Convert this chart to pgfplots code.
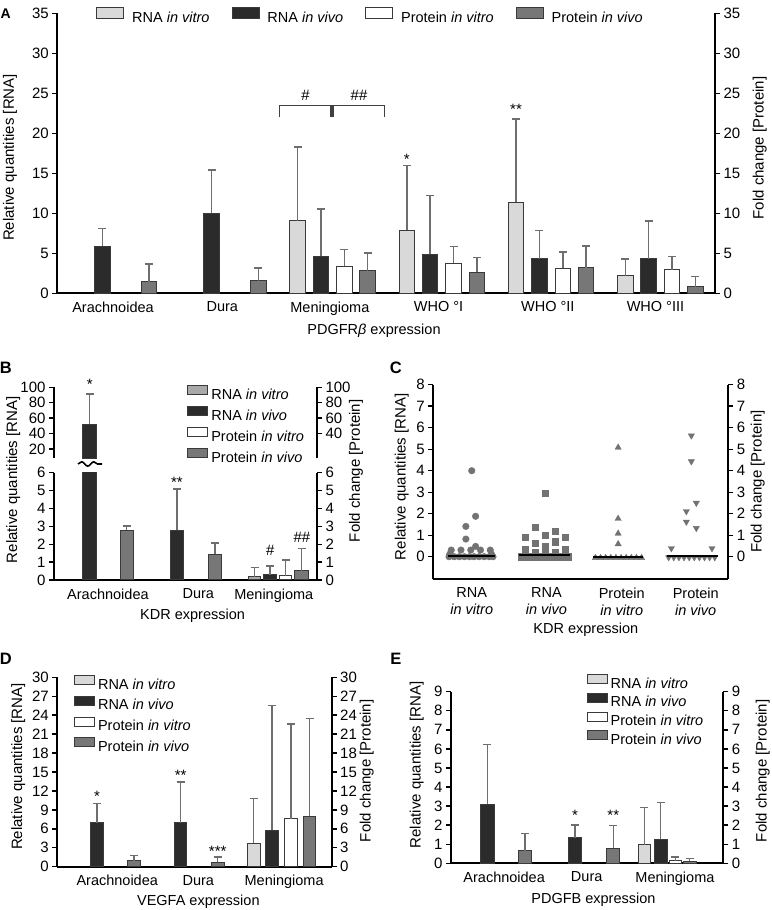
\documentclass[border=0pt]{standalone}
\usepackage{fontspec}
\setmainfont{Liberation Sans}
\usepackage{pgfplots}
\pgfplotsset{compat=1.18}
\usetikzlibrary{decorations.pathmorphing}

\definecolor{rvitro}{HTML}{D9D9D9}
\definecolor{rvitroB}{HTML}{A9A9A9}
\definecolor{rvivo}{HTML}{2B2B2B}
\definecolor{pvivo}{HTML}{777777}
\definecolor{edge}{HTML}{3A3A3A}
\definecolor{errc}{HTML}{6E6E6E}
\definecolor{dotc}{HTML}{727272}

\newcommand\fs{\fontsize{14.5}{16.7}\selectfont}
\newcommand\fsy{\fontsize{15}{18}\selectfont}

\pgfplotsset{
  base/.style={
    scale only axis, anchor=south west,
    axis line style={line width=1.8pt, -},
    tick style={black, line width=1.4pt},
    tick align=outside,
    major tick length=5pt,
    xtick style={draw=none},
    yticklabel style={font=\fsy},
    xticklabel style={font=\fs},
    /pgf/number format/assume math mode=true,
    label style={font=\fs},
    ylabel style={font=\fsy},
    clip mode=individual,
  },
  bars/.style={ybar, bar width=#1, bar shift=0pt, draw=edge, line width=1pt,
    /pgfplots/error bars/y dir=plus,
    /pgfplots/error bars/y explicit,
    /pgfplots/error bars/error bar style={errc, line width=1.5pt},
    /pgfplots/error bars/error mark options={errc, rotate=90, mark size=4pt, line width=1.5pt}},
  leg/.style={legend image code/.code={\draw[##1, line width=0.8pt] (0pt,0.7pt) rectangle (20pt,9.7pt);},
    legend cell align=left},
}

\begin{document}
\begin{tikzpicture}
\fill[white] (0pt,0pt) rectangle (771pt,910pt);

% ---------------- Panel A ----------------
\begin{axis}[base, at={(57.3pt,616.7pt)}, width=657.7pt, height=280pt,
  xmin=-0.52, xmax=5.5, ymin=0, ymax=35, ytick={0,5,...,35},
  axis x line*=bottom, axis y line*=left,
  xtick={-0.01,0.99,1.975,2.97,3.97,4.955},
  xticklabels={Arachnoidea,Dura,Meningioma,WHO °I,WHO °II,WHO °III},
  xlabel={PDGFR\textit{β} expression},
  xlabel style={at={(rel axis cs:0.4815,-0.135)}, anchor=center},
  ylabel={Relative quantities [RNA]},
  ylabel style={at={(rel axis cs:-0.072,0.485)}, anchor=center},
  legend columns=4,
  legend image code/.code={\draw[#1, line width=0.9pt] (0pt,-0.5pt) rectangle (27pt,10.5pt);},
  legend style={at={(rel axis cs:0.059,0.991)}, anchor=west, draw=none, fill=none,
    inner sep=0pt, font=\fs, nodes={inner sep=0pt},
    /tikz/every odd column/.append style={column sep=8pt},
    /tikz/every even column/.append style={column sep=22pt}},
]
\addlegendimage{fill=rvitro, draw=edge}\addlegendentry{RNA \textit{in vitro}}
\addlegendimage{fill=rvivo, draw=edge}\addlegendentry{RNA \textit{in vivo}}
\addlegendimage{fill=white, draw=edge}\addlegendentry{Protein \textit{in vitro}}
\addlegendimage{fill=pvivo, draw=edge}\addlegendentry{Protein \textit{in vivo}}
\addplot[bars=0.142, fill=rvitro, forget plot] coordinates
  {(1.679,9.05) +- (0,9.25) (2.679,7.9) +- (0,8.1) (3.679,11.4) +- (0,10.4) (4.679,2.17) +- (0,2.1)};
\addplot[bars=0.142, fill=rvivo, forget plot] coordinates
  {(-0.107,5.9) +- (0,2.2) (0.893,10.0) +- (0,5.4) (1.893,4.62) +- (0,5.9) (2.893,4.87) +- (0,7.35) (3.893,4.33) +- (0,3.5) (4.893,4.3) +- (0,4.73)};
\addplot[bars=0.142, fill=white, forget plot] coordinates
  {(2.107,3.37) +- (0,2.08) (3.107,3.75) +- (0,2.08) (4.107,3.1) +- (0,2.05) (5.107,2.92) +- (0,1.7)};
\addplot[bars=0.142, fill=pvivo, forget plot] coordinates
  {(0.321,1.45) +- (0,2.2) (1.321,1.54) +- (0,1.62) (2.321,2.79) +- (0,2.25) (3.321,2.62) +- (0,1.88) (4.321,3.2) +- (0,2.7) (5.321,0.83) +- (0,1.25)};
\node[font=\fsy] at (axis cs:2.679,16.8) {*};
\node[font=\fsy] at (axis cs:3.679,23.0) {**};
\draw[line width=1.5pt, black!75] (axis cs:1.513,22) -- (axis cs:1.513,23.5) -- (axis cs:1.986,23.5) -- (axis cs:1.986,22);
\draw[line width=1.5pt, black!75] (axis cs:2.003,22) -- (axis cs:2.003,23.5) -- (axis cs:2.473,23.5) -- (axis cs:2.473,22);
\node[font=\fsy] at (axis cs:1.75,24.8) {\textit{\#}};
\node[font=\fsy] at (axis cs:2.24,24.8) {\textit{\#\#}};
\end{axis}
\begin{axis}[base, at={(57.3pt,616.7pt)}, width=657.7pt, height=280pt,
  xmin=-0.52, xmax=5.5, ymin=0, ymax=35, ytick={0,5,...,35},
  axis y line*=right, axis x line=none,
  ylabel={Fold change [Protein]},
  ylabel style={at={(rel axis cs:1.068,0.519)}, anchor=center}]
\end{axis}

% ---------------- Panel B ----------------
\begin{axis}[base, at={(54pt,330pt)}, width=263pt, height=107.3pt,
  xmin=-0.503, xmax=2.437, ymin=0, ymax=6, ytick={0,...,6},
  axis x line*=bottom, axis y line*=left,
  xtick={0.1,1.11,1.954}, xticklabels={Arachnoidea,Dura,Meningioma},
  xlabel={KDR expression}, xlabel style={at={(rel axis cs:0.527,-0.335)}, anchor=center},
  ylabel={Relative quantities [RNA]}, ylabel style={at={(rel axis cs:-0.155,0.935)}, anchor=center}]
\addplot[bars=0.135, fill=rvitroB] coordinates {(1.741,0.18) +- (0,0.52)};
\addplot[bars=0.15, fill=rvivo] coordinates {(-0.104,52.4) +- (0,0) (0.872,2.77) +- (0,2.31) (1.912,0.28) +- (0,0.51)};
\addplot[bars=0.135, fill=white] coordinates {(2.087,0.24) +- (0,0.87)};
\addplot[bars=0.15, fill=pvivo] coordinates {(0.31,2.77) +- (0,0.24) (1.297,1.44) +- (0,0.63) (2.266,0.52) +- (0,1.23)};
\node[font=\fsy] at (axis cs:0.872,5.47) {**};
\node[font=\fsy] at (axis cs:1.912,1.68) {\textit{\#}};
\node[font=\fsy] at (axis cs:2.266,2.39) {\textit{\#\#}};
\end{axis}
\begin{axis}[base, at={(54pt,330pt)}, width=263pt, height=107.3pt,
  xmin=-0.503, xmax=2.437, ymin=0, ymax=6, ytick={0,...,6},
  axis y line*=right, axis x line=none,
  ylabel={Fold change [Protein]}, ylabel style={at={(rel axis cs:1.148,1.018)}, anchor=center}]
\end{axis}
\begin{axis}[base, at={(54pt,451.7pt)}, width=263pt, height=71pt,
  xmin=-0.503, xmax=2.437, ymin=8, ymax=100, ytick={20,40,...,100},
  axis y line*=left, axis x line=none, leg,
  legend style={at={(rel axis cs:0.505,1.032)}, anchor=north west, draw=none, fill=none,
    inner sep=0pt, font=\fs, row sep=4.2pt,
    nodes={inner sep=0pt, text height=10.5pt, text depth=3pt},
    /tikz/every odd column/.append style={column sep=3.5pt}}]
\addlegendimage{fill=rvitroB, draw=edge}\addlegendentry{RNA \textit{in vitro}}
\addlegendimage{fill=rvivo, draw=edge}\addlegendentry{RNA \textit{in vivo}}
\addlegendimage{fill=white, draw=edge}\addlegendentry{Protein \textit{in vitro}}
\addlegendimage{fill=pvivo, draw=edge}\addlegendentry{Protein \textit{in vivo}}
\addplot[bars=0.15, fill=rvivo, forget plot] coordinates {(-0.104,52.4) +- (0,38.9)};
\node[font=\fsy] at (axis cs:-0.104,104.4) {*};
\end{axis}
\begin{axis}[base, at={(54pt,451.7pt)}, width=263pt, height=71pt,
  xmin=-0.503, xmax=2.437, ymin=8, ymax=100, ytick={40,60,...,100},
  axis y line*=right, axis x line=none]
\end{axis}
\draw[line width=1.6pt, decorate, decoration={snake, amplitude=2.2pt, segment length=12pt}] (78pt,446pt) -- (102pt,446pt);

% ---------------- Panel C ----------------
\begin{axis}[base, at={(433.3pt,330.7pt)}, width=295pt, height=194.6pt,
  xmin=-0.525, xmax=3.505, ymin=-1.05, ymax=8, ytick={0,...,8},
  axis x line*=bottom, axis y line*=left,
  xtick={0,1.02,2.05,3.06},
  xticklabels={{RNA\\\textit{in vitro}},{RNA\\\textit{in vivo}},{Protein\\\textit{in vitro}},{Protein\\\textit{in vivo}}},
  xticklabel style={align=center},
  xlabel={KDR expression}, xlabel style={at={(rel axis cs:0.517,-0.26)}, anchor=center},
  ylabel={Relative quantities [RNA]}, ylabel style={at={(rel axis cs:-0.107,0.527)}, anchor=center}]
\addplot[only marks, mark=*, mark size=3.3pt, color=dotc] coordinates {
 (0,4.0) (0.053,1.88) (-0.08,1.41) (-0.08,0.82) (0.053,0.48)
 (-0.28,0.31) (-0.147,0.31) (-0.013,0.31) (0.12,0.31) (0.253,0.31) (-0.3,0.12) (0.27,0.12)
 (-0.31,0) (-0.24,0) (-0.17,0) (-0.10,0) (-0.03,0) (0.03,0) (0.10,0) (0.17,0) (0.24,0) (0.29,0)};
\addplot[only marks, mark=square*, mark size=3.2pt, color=dotc] coordinates {
 (1,2.95) (0.863,1.36) (0.727,0.91) (1,0.99) (1.137,1.18) (1.273,0.91) (0.863,0.64) (1.137,0.70) (1,0.50)
 (0.727,0.36) (1.273,0.36) (0.727,0.18) (0.863,0.18) (1,0.18) (1.137,0.18) (1.273,0.18)
 (0.68,0) (0.75,0) (0.82,0) (0.89,0) (0.96,0) (1.04,0) (1.11,0) (1.18,0) (1.25,0) (1.32,0)};
\addplot[only marks, mark=triangle*, mark size=3.6pt, color=dotc] coordinates {
 (2,5.08) (2,1.77) (2,1.08) (2,0.59)
 (1.69,-0.05) (1.76,-0.05) (1.83,-0.05) (1.9,-0.05) (1.97,-0.05) (2.04,-0.05) (2.11,-0.05) (2.18,-0.05) (2.25,-0.05) (2.32,-0.05)};
\addplot[only marks, mark=triangle*, mark size=3.6pt, mark options={rotate=180}, color=dotc] coordinates {
 (3,5.63) (3,4.43) (3.068,2.5) (2.932,2.11) (2.932,1.62) (3.068,1.33) (2.727,0.39) (3.282,0.39)
 (2.69,-0.03) (2.76,-0.03) (2.83,-0.03) (2.9,-0.03) (2.97,-0.03) (3.04,-0.03) (3.11,-0.03) (3.18,-0.03) (3.25,-0.03) (3.32,-0.03)};
\addplot[black, line width=2pt] coordinates {(-0.32,0.03) (0.32,0.03)};
\addplot[black, line width=2pt] coordinates {(0.65,0.06) (1.34,0.06)};
\addplot[black, line width=2pt] coordinates {(1.66,0.0) (2.34,0.0)};
\addplot[black, line width=2pt] coordinates {(2.67,0.03) (3.36,0.03)};
\end{axis}
\begin{axis}[base, at={(433.3pt,330.7pt)}, width=295pt, height=194.6pt,
  xmin=-0.525, xmax=3.505, ymin=-1.05, ymax=8, ytick={0,...,8},
  axis y line*=right, axis x line=none,
  ylabel={Fold change [Protein]}, ylabel style={at={(rel axis cs:1.1,0.502)}, anchor=center}]
\end{axis}

% ---------------- Panel D ----------------
\begin{axis}[base, at={(57.3pt,43.3pt)}, width=274.4pt, height=189.4pt,
  xmin=-0.557, xmax=2.57, ymin=0, ymax=30, ytick={0,3,...,30},
  axis x line*=bottom, axis y line*=left,
  xtick={0.126,1.05,2.028}, xticklabels={Arachnoidea,Dura,Meningioma},
  xlabel={VEGFA expression}, xlabel style={at={(rel axis cs:0.514,-0.185)}, anchor=center},
  ylabel={Relative quantities [RNA]}, ylabel style={at={(rel axis cs:-0.142,0.529)}, anchor=center},
  leg,
  legend style={at={(rel axis cs:0.061,1.012)}, anchor=north west, draw=none, fill=none,
    inner sep=0pt, font=\fs, row sep=3.8pt,
    nodes={inner sep=0pt, text height=10.5pt, text depth=3pt},
    /tikz/every odd column/.append style={column sep=3pt}}]
\addlegendimage{fill=rvitro, draw=edge}\addlegendentry{RNA \textit{in vitro}}
\addlegendimage{fill=rvivo, draw=edge}\addlegendentry{RNA \textit{in vivo}}
\addlegendimage{fill=white, draw=edge}\addlegendentry{Protein \textit{in vitro}}
\addlegendimage{fill=pvivo, draw=edge}\addlegendentry{Protein \textit{in vivo}}
\addplot[bars=0.144, fill=rvitro, forget plot] coordinates {(1.681,3.75) +- (0,7.05)};
\addplot[bars=0.144, fill=rvivo, forget plot] coordinates {(-0.105,7.0) +- (0,3.0) (0.849,7.0) +- (0,6.4) (1.89,5.8) +- (0,19.7)};
\addplot[bars=0.144, fill=white, forget plot] coordinates {(2.109,7.6) +- (0,15.0)};
\addplot[bars=0.144, fill=pvivo, forget plot] coordinates {(0.315,0.95) +- (0,0.79) (1.271,0.69) +- (0,0.84) (2.319,8.0) +- (0,15.5)};
\node[font=\fsy] at (axis cs:-0.105,11.1) {*};
\node[font=\fsy] at (axis cs:0.849,14.4) {**};
\node[font=\fsy] at (axis cs:1.271,2.5) {***};
\end{axis}
\begin{axis}[base, at={(57.3pt,43.3pt)}, width=274.4pt, height=189.4pt,
  xmin=-0.557, xmax=2.57, ymin=0, ymax=30, ytick={0,3,...,30},
  axis y line*=right, axis x line=none,
  ylabel={Fold change [Protein]}, ylabel style={at={(rel axis cs:1.128,0.506)}, anchor=center}]
\end{axis}

% ---------------- Panel E ----------------
\begin{axis}[base, at={(451pt,46.7pt)}, width=272.3pt, height=171.6pt,
  xmin=-0.536, xmax=2.645, ymin=0, ymax=9, ytick={0,...,9},
  axis x line*=bottom, axis y line*=left,
  xtick={0.085,1.049,2.08}, xticklabels={Arachnoidea,Dura,Meningioma},
  xlabel={PDGFB expression}, xlabel style={at={(rel axis cs:0.523,-0.21)}, anchor=center},
  ylabel={Relative quantities [RNA]}, ylabel style={at={(rel axis cs:-0.126,0.574)}, anchor=center},
  leg,
  legend style={at={(rel axis cs:0.498,1.103)}, anchor=north west, draw=none, fill=none,
    inner sep=0pt, font=\fs, row sep=1.8pt,
    nodes={inner sep=0pt, text height=10.5pt, text depth=3pt},
    /tikz/every odd column/.append style={column sep=3pt}}]
\addlegendimage{fill=rvitro, draw=edge}\addlegendentry{RNA \textit{in vitro}}
\addlegendimage{fill=rvivo, draw=edge}\addlegendentry{RNA \textit{in vivo}}
\addlegendimage{fill=white, draw=edge}\addlegendentry{Protein \textit{in vitro}}
\addlegendimage{fill=pvivo, draw=edge}\addlegendentry{Protein \textit{in vivo}}
\addplot[bars=0.144, fill=rvitro, forget plot] coordinates {(1.724,0.96) +- (0,1.96)};
\addplot[bars=0.155, fill=rvivo, forget plot] coordinates {(-0.11,3.11) +- (0,3.13) (0.912,1.35) +- (0,0.66) (1.913,1.26) +- (0,1.94)};
\addplot[bars=0.144, fill=white, forget plot] coordinates {(2.086,0.14) +- (0,0.19)};
\addplot[bars=0.155, fill=pvivo, forget plot] coordinates {(0.328,0.66) +- (0,0.91) (1.36,0.79) +- (0,1.19) (2.252,0.1) +- (0,0.14)};
\node[font=\fsy] at (axis cs:0.912,2.5) {*};
\node[font=\fsy] at (axis cs:1.36,2.5) {**};
\end{axis}
\begin{axis}[base, at={(451pt,46.7pt)}, width=272.3pt, height=171.6pt,
  xmin=-0.536, xmax=2.645, ymin=0, ymax=9, ytick={0,...,9},
  axis y line*=right, axis x line=none,
  ylabel={Fold change [Protein]}, ylabel style={at={(rel axis cs:1.145,0.539)}, anchor=center}]
\end{axis}

% panel letters
\node[font=\bfseries\fontsize{14}{14}\selectfont] at (5.8pt,896.7pt) {A};
\node[font=\bfseries\fontsize{16.5}{16.5}\selectfont] at (5.8pt,542.5pt) {B};
\node[font=\bfseries\fontsize{16.5}{16.5}\selectfont] at (395.8pt,542.5pt) {C};
\node[font=\bfseries\fontsize{16.5}{16.5}\selectfont] at (5.8pt,251pt) {D};
\node[font=\bfseries\fontsize{16.5}{16.5}\selectfont] at (395.8pt,251pt) {E};
\pgfresetboundingbox
\path[use as bounding box] (0pt,0pt) rectangle (771pt,910pt);
\end{tikzpicture}
\end{document}
